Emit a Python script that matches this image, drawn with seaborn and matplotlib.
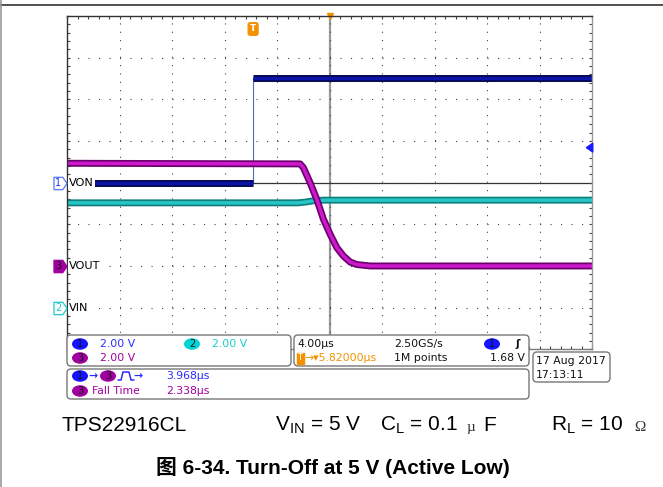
import numpy as np
import seaborn as sns
import matplotlib.pyplot as plt
import matplotlib.patheffects as pe
from matplotlib import transforms
from matplotlib.lines import Line2D
from matplotlib.patches import FancyBboxPatch, Ellipse
from matplotlib.path import Path
from matplotlib.ticker import FixedLocator

# scope settings
TIME_PER_DIV = 4.0      # us/div
VOLT_PER_DIV = 2.0      # V/div, all channels
TRIG_DELAY = 5.82       # us at screen centre
TRIG_LEVEL = 1.68       # V on ch1

# channel ground offsets (divisions from centre)
OFFSET_VON = 0.0
OFFSET_VIN = -3.0
OFFSET_VOUT = -2.0

# traces: time in us relative to trigger, volts
von_t = [-14.18, 0.0, 0.0, 25.82]
von_v = [0.0, 0.0, 5.04, 5.04]

vin_t = [-14.18, 3.4, 4.0, 4.6, 5.4, 25.82]
vin_v = [5.03, 5.03, 5.07, 5.13, 5.16, 5.16]

vout_t = [-14.18, 3.58, 3.83, 4.34, 4.85, 5.36, 5.87, 6.38, 6.88, 7.39, 7.90, 8.91, 25.82]
vout_v = [4.93, 4.90, 4.72, 4.00, 3.20, 2.24, 1.52, 0.88, 0.48, 0.19, 0.07, 0.0, 0.0]

# readouts
ch_scale_txt = ["2.00 V", "2.00 V", "2.00 V"]
timebase_txt = "4.00\u00b5s"
rate_txt = "2.50GS/s"
points_txt = "1M points"
delay_txt = "\u2192\u25be5.82000\u00b5s"
trig_txt = "1.68 V"
date_txt = ["17 Aug 2017", "17:13:11"]
meas_txt = ["3.968\u00b5s", "2.338\u00b5s"]

# colours
C1, C1_EDGE, C1_UI = "#0b14a6", "#05074f", "#1a1aff"
C2, C2_EDGE, C2_UI = "#27c6c6", "#0f7f80", "#19cccc"
C3, C3_EDGE, C3_UI = "#cc19cc", "#6d006d", "#a000a0"
ORANGE = "#f39200"

sns.set_theme(style="white")
plt.rcParams['font.family'] = ['DejaVu Sans', 'Noto Sans CJK SC']
plt.rcParams['lines.scale_dashes'] = False
plt.rcParams['mathtext.fontset'] = 'custom'
plt.rcParams['mathtext.rm'] = 'Liberation Sans'

fig = plt.figure(figsize=(6.63, 4.87), dpi=100)
PX = fig.dpi_scale_trans


def P(x, y):
    # pixel position (from top-left) -> inches
    return (x / 100, (487 - y) / 100)


# graticule axes
rect = [67 / 663, (487 - 349.3) / 487, 525 / 663, 333.3 / 487]
xmin, xmax = TRIG_DELAY - 5 * TIME_PER_DIV, TRIG_DELAY + 5 * TIME_PER_DIV

ax2 = fig.add_axes(rect)   # centre lines
ax = fig.add_axes(rect)
for a in (ax, ax2):
    a.set_xlim(xmin, xmax)
    a.set_ylim(-4, 4)
    a.xaxis.set_major_locator(FixedLocator(np.linspace(xmin, xmax, 11)))
    a.xaxis.set_minor_locator(FixedLocator(np.linspace(xmin, xmax, 51)))
    a.yaxis.set_major_locator(FixedLocator(np.linspace(-4, 4, 9)))
    a.yaxis.set_minor_locator(FixedLocator(np.linspace(-4, 4, 41)))
    a.set_xticklabels([])
    a.set_yticklabels([])
ax.set_zorder(2)
ax2.set_zorder(1)
ax.patch.set_facecolor('none')

ax.xaxis.grid(True, which='major', color='#444444', lw=0.8, ls=(0, (0.8, 5.2)))
ax.yaxis.grid(True, which='major', color='#444444', lw=0.8, ls=(0, (0.8, 6.76)))
ax.tick_params(which='both', direction='in', length=2.2, width=0.8, color='#444444',
               top=True, right=True, bottom=True, left=True)
ax.spines['left'].set_color('#333333')
ax.spines['top'].set_color('#333333')
ax.spines['right'].set_color('#999999')
ax.spines['bottom'].set_color('#777777')
for s in ax.spines.values():
    s.set_linewidth(1.0)

ax2.spines['top'].set_visible(False)
ax2.spines['right'].set_visible(False)
ax2.spines['left'].set_position(('data', TRIG_DELAY))
ax2.spines['bottom'].set_position(('data', 0))
ax2.spines['left'].set_color('#9a9a9a')
ax2.spines['left'].set_linewidth(1.6)
ax2.spines['bottom'].set_color('#333333')
ax2.spines['bottom'].set_linewidth(0.9)
ax2.tick_params(which='both', direction='inout', length=4.3, width=0.8, color='#444444',
                top=False, right=False)


def draw_trace(t, v, offset, core, edge, lw=2.5, ew=5.0):
    pos = np.asarray(v) / VOLT_PER_DIV + offset
    sns.lineplot(x=t, y=pos, ax=ax, color=core, lw=lw, sort=False, estimator=None,
                 solid_capstyle='butt',
                 path_effects=[pe.Stroke(linewidth=ew, foreground=edge, capstyle='butt'),
                               pe.Normal()])


draw_trace(vin_t, vin_v, OFFSET_VIN, C2, C2_EDGE)
# VON: thin edge plus thick flat parts
sns.lineplot(x=von_t, y=np.asarray(von_v) / VOLT_PER_DIV + OFFSET_VON, ax=ax,
             color='#5a6ab8', lw=0.8, sort=False, estimator=None)
draw_trace(von_t[:2], von_v[:2], OFFSET_VON, C1, C1_EDGE)
draw_trace(von_t[2:], von_v[2:], OFFSET_VON, C1, C1_EDGE)
draw_trace(vout_t, vout_v, OFFSET_VOUT, C3, C3_EDGE)
ax.set_xlabel('')
ax.set_ylabel('')

# trigger markers
ax.text(0.0, 0.961, "T", transform=ax.get_xaxis_transform(), ha='center', va='center',
        color='white', fontsize=6.5, fontweight='bold',
        bbox=dict(boxstyle='round,pad=0.2,rounding_size=0.25', fc=ORANGE, ec=ORANGE))
ax.plot([TRIG_DELAY], [1.0], marker='v', ms=5, color=ORANGE, transform=ax.get_xaxis_transform(),
        clip_on=False)
ax.annotate('', xy=(0.982, TRIG_LEVEL / VOLT_PER_DIV + OFFSET_VON),
            xytext=(1.0, TRIG_LEVEL / VOLT_PER_DIV + OFFSET_VON),
            xycoords=ax.get_yaxis_transform(), textcoords=ax.get_yaxis_transform(),
            arrowprops=dict(arrowstyle='-|>,head_length=0.35,head_width=0.25', color='#1a1aff', lw=1.2))

# channel ground flags
flag = Path([(-1, -0.95), (0.35, -0.95), (1, 0), (0.35, 0.95), (-1, 0.95), (-1, -0.95)])
ftrans = ax.get_yaxis_transform() + transforms.ScaledTranslation(-0.075, 0, PX)
dtrans = ax.get_yaxis_transform() + transforms.ScaledTranslation(-0.085, 0, PX)
ltrans = ax.get_yaxis_transform() + transforms.ScaledTranslation(0.02, 0, PX)
flags = [("1", "VON", OFFSET_VON, 'white', '#5577ff', '#2030ff'),
         ("3", "VOUT", OFFSET_VOUT, C3_UI, C3_UI, '#111111'),
         ("2", "VIN", OFFSET_VIN, 'white', C2_UI, C2_UI)]
for num, name, off, fc, ec, tc in flags:
    ax.plot([0], [off], marker=flag, ms=9.4, mfc=fc, mec=ec, mew=0.9,
            transform=ftrans, clip_on=False, zorder=6)
    ax.text(0, off, num, transform=dtrans, ha='center', va='center', fontsize=7,
            color=tc, zorder=7, clip_on=False)
    ax.text(0, off, name, transform=ltrans, ha='left', va='center', fontsize=8.1,
            color='black', zorder=7,
            bbox=dict(boxstyle='square,pad=0.1', fc='white', ec='none'))

# readout panels
def panel(x0, y0, x1, y1):
    fig.add_artist(FancyBboxPatch(P(x0, y1), (x1 - x0) / 100, (y1 - y0) / 100,
                                  boxstyle='round,pad=0,rounding_size=0.04',
                                  transform=PX, fc='white', ec='#777777', lw=1.0, zorder=10))


def pill(x, y, num, color):
    fig.add_artist(Ellipse(P(x, y), 0.16, 0.115, transform=PX, fc=color, ec='none', zorder=11))
    fig.text(*P(x, y + 0.3), num, transform=PX, ha='center', va='center', fontsize=7,
             color='#111111', zorder=12)


def txt(x, y, s, color='#111111', ha='left', **kw):
    fig.text(*P(x, y), s, transform=PX, ha=ha, va='center', fontsize=7.8, color=color,
             zorder=12, **kw)


panel(67, 335, 291, 366)
panel(294, 335, 529, 366)
panel(533, 352, 610, 382)
panel(67, 369, 529, 399)

pill(80, 344, "1", '#1414ff')
txt(100, 344, ch_scale_txt[0], '#2a2aff')
pill(192, 344, "2", '#00d4d4')
txt(212, 344, ch_scale_txt[1], C2_UI)
pill(80, 358, "3", C3_UI)
txt(100, 358, ch_scale_txt[2], C3_UI)

txt(297, 344, timebase_txt)
txt(394, 344, rate_txt)
pill(492, 344, "1", '#1414ff')
txt(515, 344, "\u0283", fontweight='bold')
fig.text(*P(300, 358), "T", transform=PX, ha='center', va='center', fontsize=6, color='white',
         zorder=12, bbox=dict(boxstyle='square,pad=0.12', fc=ORANGE, ec=ORANGE))
txt(304, 358, delay_txt, ORANGE)
txt(394, 358, points_txt)
txt(525, 358, trig_txt, ha='right')

txt(536, 361, date_txt[0])
txt(536, 375, date_txt[1])

pill(80, 376, "1", '#1414ff')
txt(88, 376, "\u2192", '#2a2aff', fontweight='bold')
pill(108, 376, "3", C3_UI)
fig.add_artist(Line2D([118 / 100, 121 / 100, 123 / 100, 129 / 100, 131 / 100, 134 / 100],
                      [(487 - 380) / 100, (487 - 380) / 100, (487 - 372) / 100,
                       (487 - 372) / 100, (487 - 380) / 100, (487 - 380) / 100],
                      transform=PX, color='#2a2aff', lw=1.1, zorder=12))
txt(133, 376, "\u2192", '#2a2aff', fontweight='bold')
txt(166, 376, meas_txt[0], '#2a2aff')
pill(80, 391, "3", C3_UI)
txt(92, 391, "Fall Time", C3_UI)
txt(166, 391, meas_txt[1], C3_UI)

# frame of the figure
fig.add_artist(Line2D([0, 6.63], [(487 - 5) / 100] * 2, transform=PX, color='#333333', lw=1.2))
fig.add_artist(Line2D([0.01, 0.01], [0, 4.87], transform=PX, color='#999999', lw=1.2))

# caption lines
cap = dict(transform=PX, va='baseline', fontsize=15, color='black', family='Liberation Sans')
fig.text(*P(62, 431), "TPS22916CL", **cap)
fig.text(*P(275, 431), r"$\mathrm{V_{IN}}$ = 5 V", **cap)
fig.text(*P(380, 431), r"$\mathrm{C_L}$ = 0.1", **cap)
fig.text(*P(467, 431), "\u00b5", transform=PX, va='baseline', fontsize=11, color='#333333',
         family='Liberation Serif')
fig.text(*P(483, 431), "F", **cap)
fig.text(*P(551, 431), r"$\mathrm{R_L}$ = 10", **cap)
fig.text(*P(634, 431), "\u03a9", transform=PX, va='baseline', fontsize=11, color='#333333',
         family='Liberation Serif')
fig.text(*P(332.5, 474), "\u56fe 6-34. Turn-Off at 5 V (Active Low)", transform=PX,
         ha='center', va='baseline', fontsize=15, fontweight='bold', color='black',
         family=['Liberation Sans', 'Noto Sans CJK SC'])

fig.savefig("out.png", dpi=100)
